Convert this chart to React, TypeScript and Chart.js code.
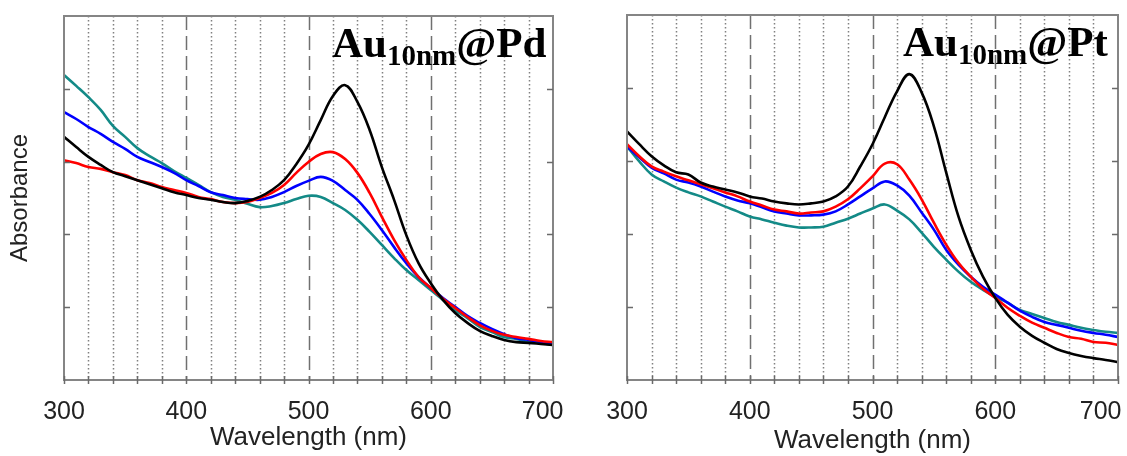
import React, { useEffect, useRef } from 'react';
import { Chart, registerables } from 'chart.js';

Chart.register(...registerables);

// Wavelength sampling (nm)
const wavelengths = [300, 310, 320, 330, 340, 350, 360, 370, 380, 390, 400, 410, 420, 430, 440, 450, 460, 470, 480, 490, 500, 510, 520, 530, 540, 550, 560, 570, 580, 590, 600, 610, 620, 630, 640, 650, 660, 670, 680, 690, 700];

// Au10nm@Pd absorbance (a.u.)
const pdBlack = [0.668, 0.640, 0.613, 0.591, 0.571, 0.560, 0.549, 0.538, 0.527, 0.516, 0.508, 0.500, 0.495, 0.489, 0.486, 0.492, 0.503, 0.522, 0.549, 0.593, 0.646, 0.714, 0.780, 0.810, 0.764, 0.687, 0.585, 0.495, 0.398, 0.321, 0.266, 0.220, 0.184, 0.157, 0.135, 0.121, 0.110, 0.104, 0.102, 0.099, 0.096];
const pdRed = [0.604, 0.596, 0.585, 0.580, 0.571, 0.563, 0.549, 0.541, 0.530, 0.522, 0.514, 0.503, 0.497, 0.489, 0.486, 0.489, 0.500, 0.514, 0.536, 0.569, 0.599, 0.621, 0.626, 0.607, 0.569, 0.514, 0.448, 0.385, 0.330, 0.283, 0.253, 0.223, 0.198, 0.173, 0.151, 0.135, 0.124, 0.118, 0.113, 0.107, 0.104];
const pdBlue = [0.736, 0.717, 0.695, 0.676, 0.654, 0.635, 0.613, 0.599, 0.585, 0.569, 0.549, 0.533, 0.516, 0.508, 0.500, 0.497, 0.495, 0.503, 0.516, 0.533, 0.547, 0.558, 0.547, 0.522, 0.495, 0.456, 0.412, 0.365, 0.321, 0.283, 0.253, 0.225, 0.201, 0.176, 0.157, 0.140, 0.126, 0.115, 0.110, 0.104, 0.099];
const pdTeal = [0.838, 0.808, 0.777, 0.742, 0.698, 0.668, 0.637, 0.615, 0.596, 0.574, 0.555, 0.536, 0.516, 0.503, 0.495, 0.484, 0.475, 0.478, 0.486, 0.497, 0.506, 0.503, 0.486, 0.467, 0.440, 0.407, 0.371, 0.335, 0.302, 0.275, 0.247, 0.220, 0.192, 0.170, 0.146, 0.132, 0.118, 0.113, 0.104, 0.102, 0.096];

// Au10nm@Pt absorbance (a.u.)
const ptBlack = [0.681, 0.646, 0.613, 0.588, 0.569, 0.563, 0.541, 0.530, 0.522, 0.514, 0.503, 0.497, 0.489, 0.484, 0.481, 0.484, 0.489, 0.503, 0.530, 0.585, 0.646, 0.720, 0.791, 0.838, 0.788, 0.695, 0.569, 0.448, 0.357, 0.283, 0.225, 0.179, 0.146, 0.121, 0.102, 0.085, 0.074, 0.066, 0.060, 0.055, 0.049];
const ptRed = [0.646, 0.613, 0.585, 0.571, 0.558, 0.547, 0.536, 0.525, 0.514, 0.503, 0.489, 0.478, 0.467, 0.462, 0.456, 0.459, 0.462, 0.475, 0.495, 0.525, 0.558, 0.593, 0.591, 0.549, 0.495, 0.431, 0.371, 0.321, 0.283, 0.250, 0.225, 0.198, 0.176, 0.157, 0.143, 0.129, 0.118, 0.113, 0.104, 0.102, 0.096];
const ptBlue = [0.640, 0.610, 0.582, 0.566, 0.549, 0.541, 0.530, 0.516, 0.503, 0.492, 0.484, 0.473, 0.462, 0.456, 0.451, 0.451, 0.453, 0.462, 0.481, 0.503, 0.525, 0.544, 0.533, 0.505, 0.459, 0.412, 0.357, 0.316, 0.283, 0.255, 0.234, 0.212, 0.190, 0.173, 0.159, 0.151, 0.143, 0.135, 0.129, 0.124, 0.118];
const ptTeal = [0.640, 0.599, 0.563, 0.544, 0.527, 0.514, 0.503, 0.489, 0.475, 0.462, 0.448, 0.440, 0.431, 0.423, 0.418, 0.418, 0.420, 0.431, 0.442, 0.456, 0.470, 0.481, 0.464, 0.440, 0.404, 0.365, 0.330, 0.297, 0.269, 0.247, 0.228, 0.212, 0.192, 0.181, 0.170, 0.159, 0.151, 0.143, 0.137, 0.132, 0.129];

// Axis ticks / grid
const xTickLabels = [300, 400, 500, 600, 700];
const majorGrid = [400, 500, 600];
const minorGrid = [320, 340, 360, 380, 420, 440, 460, 480, 520, 540, 560, 580, 620, 640, 660, 680];
const xTickMarks = [300, 320, 340, 360, 380, 400, 420, 440, 460, 480, 500, 520, 540, 560, 580, 600, 620, 640, 660, 680, 700];
const yTickMarks = [0.2, 0.4, 0.6, 0.8];

const seriesColors = ['#000000', '#ff0000', '#0000ff', '#138a87'];

const SANS = '"Liberation Sans", Arial, sans-serif';
const SERIF = '"Liberation Serif", "Times New Roman", serif';

const framePlugin = {
  id: 'framePlugin',
  beforeDatasetsDraw(chart: any) {
    const { ctx, chartArea, scales } = chart;
    const { top, bottom } = chartArea;
    const x = scales.x;
    ctx.save();
    minorGrid.forEach((w) => {
      const px = Math.round(x.getPixelForValue(w)) + 0.5;
      ctx.beginPath();
      ctx.setLineDash([1.5, 2.5]);
      ctx.lineWidth = 1.5;
      ctx.strokeStyle = '#808080';
      ctx.moveTo(px, top);
      ctx.lineTo(px, bottom);
      ctx.stroke();
    });
    majorGrid.forEach((w) => {
      const px = Math.round(x.getPixelForValue(w)) + 0.5;
      ctx.beginPath();
      ctx.setLineDash([14, 6]);
      ctx.lineWidth = 1.5;
      ctx.strokeStyle = '#707070';
      ctx.moveTo(px, top);
      ctx.lineTo(px, bottom);
      ctx.stroke();
    });
    ctx.restore();
  },
  afterDatasetsDraw(chart: any) {
    const { ctx, chartArea, scales } = chart;
    const { left, right, top, bottom } = chartArea;
    ctx.save();
    ctx.setLineDash([]);
    ctx.strokeStyle = '#858585';
    ctx.lineWidth = 2;
    ctx.strokeRect(left, top, right - left, bottom - top);
    ctx.lineWidth = 1.5;
    ctx.strokeStyle = '#6a6a6a';
    xTickMarks.forEach((w) => {
      const px = Math.round(scales.x.getPixelForValue(w)) + 0.5;
      ctx.beginPath();
      ctx.moveTo(px, bottom - 4);
      ctx.lineTo(px, bottom + 4);
      ctx.stroke();
    });
    yTickMarks.forEach((v) => {
      const py = Math.round(scales.y.getPixelForValue(v)) + 0.5;
      ctx.beginPath();
      ctx.moveTo(left, py);
      ctx.lineTo(left + 6, py);
      ctx.moveTo(right - 6, py);
      ctx.lineTo(right, py);
      ctx.stroke();
    });
    ctx.restore();
  },
};

function makeTitlePlugin(main: string, sub: string, tail: string, offsetX: number) {
  return {
    id: 'sampleTitle',
    afterDraw(chart: any) {
      const { ctx, chartArea } = chart;
      ctx.save();
      ctx.fillStyle = '#000';
      ctx.textBaseline = 'alphabetic';
      ctx.textAlign = 'left';
      let x = chartArea.left + offsetX;
      const y = chartArea.top + 41;
      ctx.font = 'bold 43px ' + SERIF;
      ctx.fillText(main, x, y);
      x += ctx.measureText(main).width;
      ctx.font = 'bold 29px ' + SERIF;
      ctx.fillText(sub, x, y + 8);
      x += ctx.measureText(sub).width;
      ctx.font = 'bold 43px ' + SERIF;
      ctx.fillText(tail, x, y);
      ctx.restore();
    },
  };
}

type PanelProps = {
  series: number[][];
  title: [string, string, string];
  titleOffset: number;
  showYTitle: boolean;
  width: number;
  padRight: number;
  padTop: number;
  xTitlePad: number;
  lastLabelShift: string;
};

function Panel({ series, title, titleOffset, showYTitle, width, padRight, padTop, xTitlePad, lastLabelShift }: PanelProps) {
  const ref = useRef<HTMLCanvasElement | null>(null);
  useEffect(() => {
    if (!ref.current) return;
    const chart = new Chart(ref.current, {
      type: 'line',
      data: {
        datasets: series.map((vals, i) => ({
          label: 'S' + i,
          data: wavelengths.map((w, j) => ({ x: w, y: vals[j] })),
          borderColor: seriesColors[i],
          backgroundColor: seriesColors[i],
          borderWidth: 2.6,
          pointRadius: 0,
          fill: false,
          tension: 0.4,
        })),
      },
      options: {
        responsive: false,
        animation: false,
        layout: { padding: { left: 0, right: padRight, top: padTop, bottom: 0 } },
        plugins: { legend: { display: false }, tooltip: { enabled: false }, title: { display: false } },
        scales: {
          x: {
            type: 'linear',
            min: 300,
            max: 700,
            afterBuildTicks: (s: any) => {
              s.ticks = xTickLabels.map((v) => ({ value: v }));
            },
            ticks: {
              autoSkip: false,
              maxRotation: 0,
              padding: 17,
              color: '#222',
              font: { family: SANS, size: 25 },
              callback: (v: any) => (v === 700 ? '700' + lastLabelShift : String(v)),
            },
            grid: { display: false, drawTicks: false },
            border: { display: false },
            title: {
              display: true,
              text: 'Wavelength (nm)',
              color: '#222',
              font: { family: SANS, size: 26 },
              padding: { top: 0, bottom: xTitlePad },
            },
            afterFit: (s: any) => {
              s.height = 76;
            },
          },
          y: {
            type: 'linear',
            min: 0,
            max: 1,
            ticks: { display: false },
            grid: { display: false, drawTicks: false },
            border: { display: false },
            title: {
              display: showYTitle,
              text: 'Absorbance',
              color: '#222',
              font: { family: SANS, size: 24 },
              padding: { top: 6, bottom: 0 },
            },
            afterFit: (s: any) => {
              s.width = 64;
            },
          },
        },
      },
      plugins: [framePlugin, makeTitlePlugin(title[0], title[1], title[2], titleOffset)],
    } as any);
    return () => chart.destroy();
  }, []);
  return <canvas ref={ref} width={width} height={456} style={{ display: 'block' }} />;
}

export default function App() {
  return (
    <div style={{ position: 'fixed', left: 0, top: 0, width: 1127, height: 456, overflow: 'hidden', background: '#fff' }}>
      <div style={{ position: 'absolute', left: 0, top: 0 }}>
        <Panel
          series={[pdBlack, pdRed, pdBlue, pdTeal]}
          title={['Au', '10nm', '@Pd']}
          titleOffset={268}
          showYTitle={true}
          width={660}
          padRight={107}
          padTop={16}
          xTitlePad={3}
          lastLabelShift={'\u00a0\u00a0\u00a0'}
        />
      </div>
      <div style={{ position: 'absolute', left: 563, top: 0 }}>
        <Panel
          series={[ptBlack, ptRed, ptBlue, ptTeal]}
          title={['Au', '10nm', '@Pt']}
          titleOffset={276}
          showYTitle={false}
          width={660}
          padRight={105}
          padTop={15}
          xTitlePad={0}
          lastLabelShift={'\u00a0\u00a0\u00a0\u00a0\u00a0'}
        />
      </div>
    </div>
  );
}
